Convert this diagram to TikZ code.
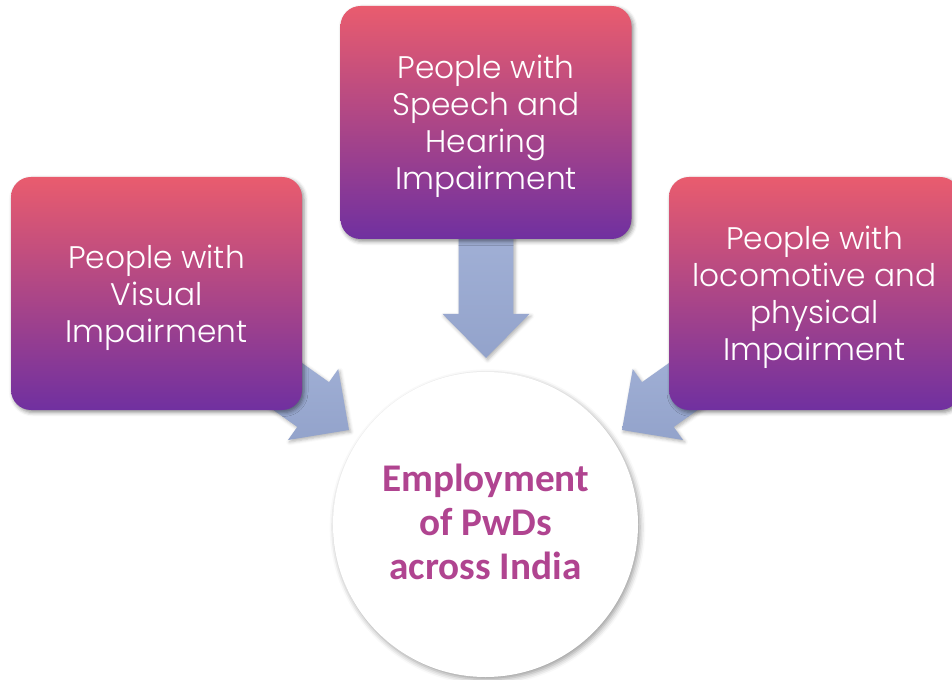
\documentclass[tikz,border=0pt]{standalone}
\usepackage{fontspec}
\setmainfont{Carlito}
\newfontfamily\gothicfamily{Poppins Light}
\usetikzlibrary{calc,shadows.blur}

\definecolor{boxtop}{HTML}{E95C6E}
\definecolor{boxbot}{HTML}{7030A0}
\definecolor{arrtop}{HTML}{ADBBDF}
\definecolor{arrbot}{HTML}{93A3CB}
\definecolor{hubink}{HTML}{B04490}

% geometric sans for the panels, bold Carlito for the hub
\newcommand\gothicfont{\gothicfamily\fontsize{23.4pt}{27.75pt}\selectfont}
\newcommand\hubfont{\bfseries\fontsize{29.4pt}{33pt}\selectfont}

% block arrow from #1 to the tip #2
\newcommand\blockarrow[2]{%
  \coordinate (ba-base) at ($(#2)!33pt!(#1)$);
  \shade[arrowbody] ($(#1)!20.6pt!90:(#2)$) -- ($(ba-base)!20.6pt!90:(#2)$)
    -- ($(ba-base)!32.6pt!90:(#2)$) -- (#2) -- ($(ba-base)!32.6pt!-90:(#2)$)
    -- ($(ba-base)!20.6pt!-90:(#2)$) -- ($(#1)!20.6pt!-90:(#2)$) -- cycle;}

\begin{document}
\begin{tikzpicture}[x=0.75pt,y=-0.75pt,
  panel/.style={rectangle, rounded corners=15pt, minimum width=218.25pt,
    minimum height=174.75pt, top color=boxtop, bottom color=boxbot,
    inner sep=0pt,
    blur shadow={shadow xshift=1.5pt, shadow yshift=-1.8pt,
      shadow blur radius=3pt, shadow opacity=45}},
  paneltext/.style={text=white, font=\gothicfont, align=center, inner sep=0pt},
  arrowbody/.style={top color=arrtop, bottom color=arrbot,
    blur shadow={shadow xshift=1.2pt, shadow yshift=-1.5pt,
      shadow blur radius=2.5pt, shadow opacity=30}},
  hub/.style={circle, fill=white, minimum size=228.75pt, inner sep=0pt,
    blur shadow={shadow xshift=1.5pt, shadow yshift=-2pt,
      shadow blur radius=4pt, shadow opacity=40}},
  hubtext/.style={font=\hubfont, text=hubink, anchor=base, inner sep=0pt}]

\useasboundingbox (0,0) rectangle (952,680);

% panel centres and arrow tips
\coordinate (cV) at (156.5,293.5);
\coordinate (cS) at (486,122.5);
\coordinate (cL) at (814.5,293.5);
\coordinate (tipV) at (349,430);
\coordinate (tipS) at (486,358);
\coordinate (tipL) at (622,430);

% arrows first, so the panels cover their tails
\blockarrow{cV}{tipV}
\blockarrow{cS}{tipS}
\blockarrow{cL}{tipL}

% the three groups
\node[panel] (visual) at (cV) {};
\node[panel] (speech) at (cS) {};
\node[panel] (loco) at (cL) {};
\node[paneltext] (visual-t) at ([yshift=-3pt]visual.center) {People with\\Visual\\Impairment};
\node[paneltext] (speech-t) at ([yshift=-3pt]speech.center) {People with\\Speech and\\Hearing\\Impairment};
\node[paneltext] (loco-t) at ([yshift=-3pt]loco.center) {People with\\locomotive and\\physical\\Impairment};

% the hub
\node[hub] (hub) at (485.5,524.5) {};
\node[hubtext] (l1) at (485.5,491) {Employment};
\node[hubtext] (l2) at (485.5,535) {of PwDs};
\node[hubtext] (l3) at (485.5,579) {across India};
\end{tikzpicture}
\end{document}
